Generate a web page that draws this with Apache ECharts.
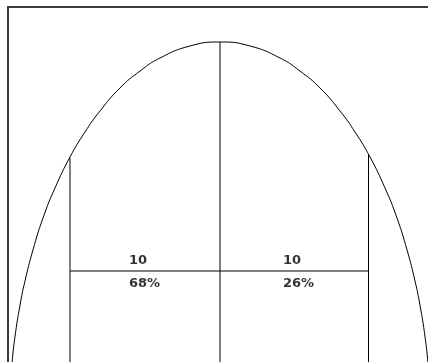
<!DOCTYPE html>
<html>
<head>
<meta charset="utf-8">
<script src="https://cdn.jsdelivr.net/npm/echarts@6/dist/echarts.min.js"></script>
<style>
html,body{margin:0;padding:0;background:#fff;}
#chart{width:428px;height:362px;}
</style>
</head>
<body>
<div id="chart"></div>
<script>
// Bell-shaped outline (x units, height units)
const curveX = [-14.0, -13.87, -13.67, -13.33, -13.0, -12.47, -11.8, -11.0, -10.0, -9.0, -8.0, -6.67, -5.33, -4.0, -2.0, 0,
                 2.0, 4.0, 5.33, 6.67, 8.0, 9.0, 10.0, 11.0, 11.8, 12.47, 13.0, 13.33, 13.67, 13.87, 14.0];
const curveY = [-2.8, -0.2, 2.5, 5.7, 8.1, 11.2, 14.4, 17.4, 20.5, 23.0, 25.1, 27.4, 29.1, 30.4, 31.6, 32.0,
                 31.6, 30.4, 29.1, 27.4, 25.1, 23.0, 20.5, 17.4, 14.4, 11.2, 8.1, 5.7, 2.5, -0.2, -2.8];

// Vertical dividers and their heights (where they meet the outline)
const dividerX = [-10, 0, 9.9];
const dividerTop = [20.4, 32.0, 20.7];
const dividerBottom = -1;

// Horizontal divider
const baseLineY = 9.1;
const baseLineFrom = -10;
const baseLineTo = 9.9;

// Segment labels
const labelX = [-6.07, 4.2];
const segmentCounts = ['10', '10'];
const segmentShares = ['68%', '26%'];
const countY = 10.1;
const shareY = 7.8;

const curveData = curveX.map((x, i) => [x, curveY[i]]);

const series = [];
series.push({
  type: 'line', xAxisIndex: 1, yAxisIndex: 1,
  data: curveData, smooth: true, symbol: 'none',
  lineStyle: { color: '#000', width: 1 }, silent: true
});
dividerX.forEach((x, i) => {
  series.push({
    type: 'line', xAxisIndex: 1, yAxisIndex: 1,
    data: [[x, dividerBottom], [x, dividerTop[i]]], symbol: 'none',
    lineStyle: { color: '#000', width: 1 }, silent: true
  });
});
series.push({
  type: 'line', xAxisIndex: 1, yAxisIndex: 1,
  data: [[baseLineFrom, baseLineY], [baseLineTo, baseLineY]], symbol: 'none',
  lineStyle: { color: '#000', width: 1 }, silent: true
});
const textStyle = {
  show: true, position: 'inside', align: 'left', verticalAlign: 'middle',
  color: '#000', fontFamily: 'DejaVu Sans', fontWeight: 'bold', fontSize: 13,
  formatter: p => p.data.name
};
series.push({
  type: 'scatter', xAxisIndex: 1, yAxisIndex: 1, symbolSize: 0,
  data: labelX.map((x, i) => ({ value: [x, countY], name: segmentCounts[i] }))
    .concat(labelX.map((x, i) => ({ value: [x, shareY], name: segmentShares[i] }))),
  label: textStyle, silent: true
});

const chart = echarts.init(document.getElementById('chart'), null, { renderer: 'canvas' });
chart.setOption({
  animation: false,
  backgroundColor: '#fff',
  grid: [
    { left: 8, top: 7, width: 460, height: 400, outerBoundsMode: 'none', containLabel: false,
      show: true, borderColor: '#3a3a3a', borderWidth: 2, backgroundColor: 'transparent' },
    { left: 10, width: 420, top: 0, height: 362, outerBoundsMode: 'none', containLabel: false, show: false }
  ],
  xAxis: [
    { gridIndex: 0, type: 'value', show: false, min: 0, max: 1 },
    { gridIndex: 1, type: 'value', show: false, min: -14, max: 14 }
  ],
  yAxis: [
    { gridIndex: 0, type: 'value', show: false, min: 0, max: 1 },
    { gridIndex: 1, type: 'value', show: false, min: 0, max: 36.2 }
  ],
  series: series
});
</script>
</body>
</html>
